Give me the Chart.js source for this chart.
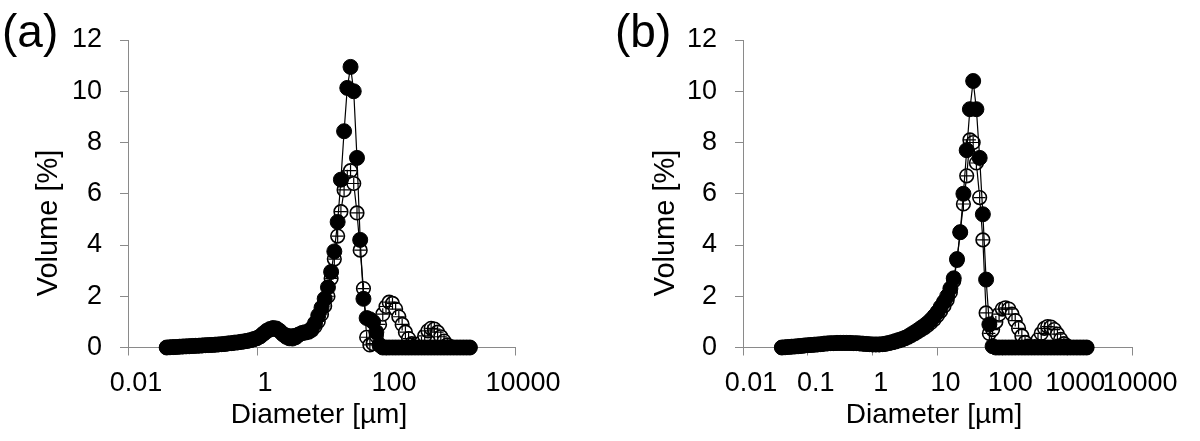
<!DOCTYPE html>
<html>
<head>
<meta charset="utf-8">
<title>Particle size distribution</title>
<script src="https://cdn.jsdelivr.net/npm/chart.js@4.4.1/dist/chart.umd.min.js"></script>
<style>
    body { margin: 0; background: #fff; }
    #wrap { position: relative; width: 1200px; height: 441px; }
    canvas { position: absolute; top: 0; }
</style>
</head>
<body>
<div id="wrap">
    <canvas id="chart_a" width="600" height="441" style="left:0px"></canvas>
    <canvas id="chart_b" width="600" height="441" style="left:600px"></canvas>
</div>
<script>
// size classes [um], shared by both panels
const diameters = [
    0.0398, 0.0447, 0.0501, 0.0562, 0.0631, 0.0708, 0.0794, 0.0891,
    0.1, 0.112, 0.126, 0.141, 0.158, 0.178, 0.2, 0.224, 0.251, 0.282, 0.316, 0.355, 0.398, 0.447, 0.501, 0.562, 0.631, 0.708, 0.794, 0.891,
    1, 1.12, 1.26, 1.41, 1.58, 1.78, 2, 2.24, 2.51, 2.82, 3.16, 3.55, 3.98, 4.47, 5.01, 5.62, 6.31, 7.08, 7.94, 8.91,
    10, 11.2, 12.6, 14.1, 15.8, 17.8, 20, 22.4, 25.1, 28.2, 31.6, 35.5, 39.8, 44.7, 50.1, 56.2, 63.1, 70.8, 79.4, 89.1,
    100, 112, 126, 141, 158, 178, 200, 224, 251, 282, 316, 355, 398, 447, 501, 562, 631, 708, 794, 891,
    1000, 1122, 1259, 1413, 1585, 1778, 1995
]

// panel (a) volume [%]
const filled_a = [
    0, 0.01, 0.015, 0.02, 0.03, 0.04, 0.045, 0.05, 0.06, 0.065,
    0.07, 0.08, 0.09, 0.095, 0.1, 0.11, 0.12, 0.13, 0.14, 0.16,
    0.17, 0.19, 0.2, 0.22, 0.24, 0.26, 0.29, 0.33, 0.37, 0.44,
    0.55, 0.65, 0.72, 0.76, 0.74, 0.65, 0.52, 0.42, 0.36, 0.35,
    0.4, 0.5, 0.57, 0.6, 0.63, 0.75, 0.95, 1.25, 1.55, 1.9,
    2.35, 2.95, 3.75, 4.9, 6.55, 8.44, 10.13, 10.95, 10.0, 7.4,
    4.2, 1.9, 1.15, 1.1, 1.0, 0.6, 0.1, 0, 0, 0,
    0, 0, 0, 0, 0, 0, 0, 0, 0, 0,
    0, 0, 0, 0, 0, 0, 0, 0, 0, 0,
    0, 0, 0, 0, 0
]
const open_a = [
    0, 0.01, 0.015, 0.02, 0.03, 0.035, 0.04, 0.05, 0.055, 0.06,
    0.07, 0.075, 0.085, 0.09, 0.1, 0.105, 0.115, 0.125, 0.135, 0.15,
    0.16, 0.18, 0.19, 0.21, 0.23, 0.25, 0.28, 0.31, 0.36, 0.42,
    0.52, 0.62, 0.69, 0.72, 0.71, 0.64, 0.55, 0.48, 0.45, 0.45,
    0.47, 0.52, 0.55, 0.57, 0.6, 0.68, 0.82, 1.02, 1.3, 1.62,
    2.0, 2.7, 3.45, 4.35, 5.3, 6.15, 6.7, 6.9, 6.4, 5.25,
    3.8, 2.3, 0.4, 0.1, 0.15, 0.45, 0.9, 1.3, 1.6, 1.77,
    1.72, 1.5, 1.2, 0.9, 0.6, 0.35, 0.15, 0.05, 0.05, 0.2,
    0.45, 0.65, 0.75, 0.72, 0.6, 0.42, 0.25, 0.1, 0.03, 0,
    0, 0, 0, 0, 0
]

// panel (b) volume [%]
const filled_b = [
    0, 0.01, 0.02, 0.03, 0.04, 0.05, 0.06, 0.08, 0.09, 0.1,
    0.11, 0.12, 0.13, 0.15, 0.16, 0.17, 0.17, 0.18, 0.18, 0.18,
    0.18, 0.18, 0.17, 0.17, 0.16, 0.15, 0.14, 0.13, 0.12, 0.12,
    0.12, 0.13, 0.15, 0.18, 0.21, 0.25, 0.29, 0.33, 0.38, 0.44,
    0.52, 0.6, 0.68, 0.77, 0.86, 0.96, 1.08, 1.22, 1.38, 1.58,
    1.78, 2.0, 2.3, 2.7, 3.45, 4.5, 6.0, 7.7, 9.3, 10.4,
    9.3, 7.4, 5.2, 2.65, 0.9, 0.05, 0, 0, 0, 0,
    0, 0, 0, 0, 0, 0, 0, 0, 0, 0,
    0, 0, 0, 0, 0, 0, 0, 0, 0, 0,
    0, 0, 0, 0, 0
]
const open_b = [
    0, 0.01, 0.02, 0.03, 0.04, 0.05, 0.06, 0.07, 0.08, 0.09,
    0.1, 0.11, 0.12, 0.14, 0.15, 0.16, 0.16, 0.17, 0.17, 0.17,
    0.17, 0.17, 0.16, 0.16, 0.15, 0.14, 0.13, 0.12, 0.11, 0.11,
    0.11, 0.12, 0.13, 0.16, 0.19, 0.22, 0.26, 0.3, 0.35, 0.4,
    0.47, 0.54, 0.62, 0.7, 0.78, 0.87, 0.98, 1.1, 1.25, 1.42,
    1.62, 1.85, 2.15, 2.6, 3.4, 4.5, 5.6, 6.7, 8.1, 8.0,
    7.2, 5.85, 4.2, 1.35, 0.55, 0.7, 1.0, 1.3, 1.5, 1.55,
    1.5, 1.3, 1.05, 0.75, 0.45, 0.2, 0.05, 0.02, 0.1, 0.3,
    0.55, 0.75, 0.82, 0.8, 0.7, 0.52, 0.32, 0.15, 0.05, 0,
    0, 0, 0, 0, 0
]

// axis ticks
const ticks_x_a = [0.01, 1, 100, 10000]
const ticks_x_b = [0.01, 0.1, 1, 10, 100, 1000, 10000]
const ticks_y = [0, 2, 4, 6, 8, 10, 12]

const x_title = 'Diameter [µm]'
const y_title = 'Volume [%]'

const FONT = '"Liberation Sans", Arial, Helvetica, sans-serif'
const AXIS_GRAY = '#8a8a8a'

// panel letter and axis titles, drawn on top of the chart
const panelText = {
    id: 'panelText',
    afterDraw(chart, args, opts) {
        let ctx = chart.ctx
        ctx.save()
        ctx.fillStyle = '#000'
        ctx.font = '46px ' + FONT
        ctx.textAlign = 'left'
        ctx.textBaseline = 'alphabetic'
        ctx.fillText(opts.panel, opts.panelX, 47)

        ctx.font = '28px ' + FONT
        ctx.textAlign = 'center'
        ctx.textBaseline = 'middle'
        ctx.fillText(x_title, opts.xTitleX, 415)

        ctx.font = '29px ' + FONT
        ctx.translate(opts.yTitleX, 223)
        ctx.rotate(-Math.PI / 2)
        ctx.fillText(y_title, 0, 0)
        ctx.restore()
    }
}

function toPoints(values) {
    return values.map((v, i) => {
        return { x: diameters[i], y: v }
    })
}

function makeChart(id, filled, open, ticks_x, layout) {
    let ctx = document.getElementById(id).getContext('2d')

    let data = {
        datasets: [{
            label: 'filled',
            data: toPoints(filled),
            borderColor: '#000',
            borderWidth: 1.2,
            pointBackgroundColor: '#000',
            pointBorderColor: '#000',
            pointBorderWidth: 1,
            pointRadius: 7.5,
            tension: 0,
            clip: false
        }, {
            label: 'open cross',
            data: toPoints(open),
            showLine: false,
            pointStyle: 'cross',
            pointBorderColor: '#000',
            pointBorderWidth: 1.2,
            pointRadius: 6,
            clip: false
        }, {
            label: 'open',
            data: toPoints(open),
            borderColor: '#000',
            borderWidth: 1.2,
            pointBackgroundColor: '#fff',
            pointBorderColor: '#000',
            pointBorderWidth: 1.6,
            pointRadius: 6.8,
            tension: 0,
            clip: false
        }]
    }

    let tickFont = { family: FONT, size: 27 }

    let options = {
        responsive: false,
        animation: false,
        events: [],
        layout: {
            padding: { top: 40, right: layout.right, bottom: 0, left: 0 }
        },
        plugins: {
            legend: { display: false },
            tooltip: { enabled: false },
            panelText: layout.text
        },
        scales: {
            x: {
                type: 'logarithmic',
                min: 0.01,
                max: 10000,
                afterBuildTicks: (scale) => {
                    scale.ticks = ticks_x.map((v) => { return { value: v } })
                },
                afterFit: (scale) => { scale.height = 93.5 },
                grid: { drawOnChartArea: false, drawTicks: true, tickLength: 8, color: AXIS_GRAY },
                border: { display: true, color: AXIS_GRAY, width: 1 },
                ticks: {
                    autoSkip: false,
                    maxRotation: 0,
                    minRotation: 0,
                    padding: 12,
                    labelOffset: 8,
                    color: '#000',
                    font: tickFont,
                    callback: (v) => String(v)
                }
            },
            y: {
                min: 0,
                max: 12,
                afterBuildTicks: (scale) => {
                    scale.ticks = ticks_y.map((v) => { return { value: v } })
                },
                afterFit: (scale) => { scale.width = layout.left },
                grid: { drawOnChartArea: false, drawTicks: true, tickLength: 8, color: AXIS_GRAY },
                border: { display: true, color: AXIS_GRAY, width: 1 },
                ticks: {
                    padding: 18,
                    color: '#000',
                    font: tickFont,
                    callback: (v) => String(v)
                }
            }
        }
    }

    return new Chart(ctx, {
        type: 'line',
        data: data,
        options: options,
        plugins: [panelText]
    })
}

makeChart('chart_a', filled_a, open_a, ticks_x_a, {
    left: 128, right: 85,
    text: { panel: '(a)', panelX: 2, xTitleX: 319, yTitleX: 49 }
})
makeChart('chart_b', filled_b, open_b, ticks_x_b, {
    left: 143, right: 68,
    text: { panel: '(b)', panelX: 15, xTitleX: 334, yTitleX: 66 }
})
</script>
</body>
</html>
